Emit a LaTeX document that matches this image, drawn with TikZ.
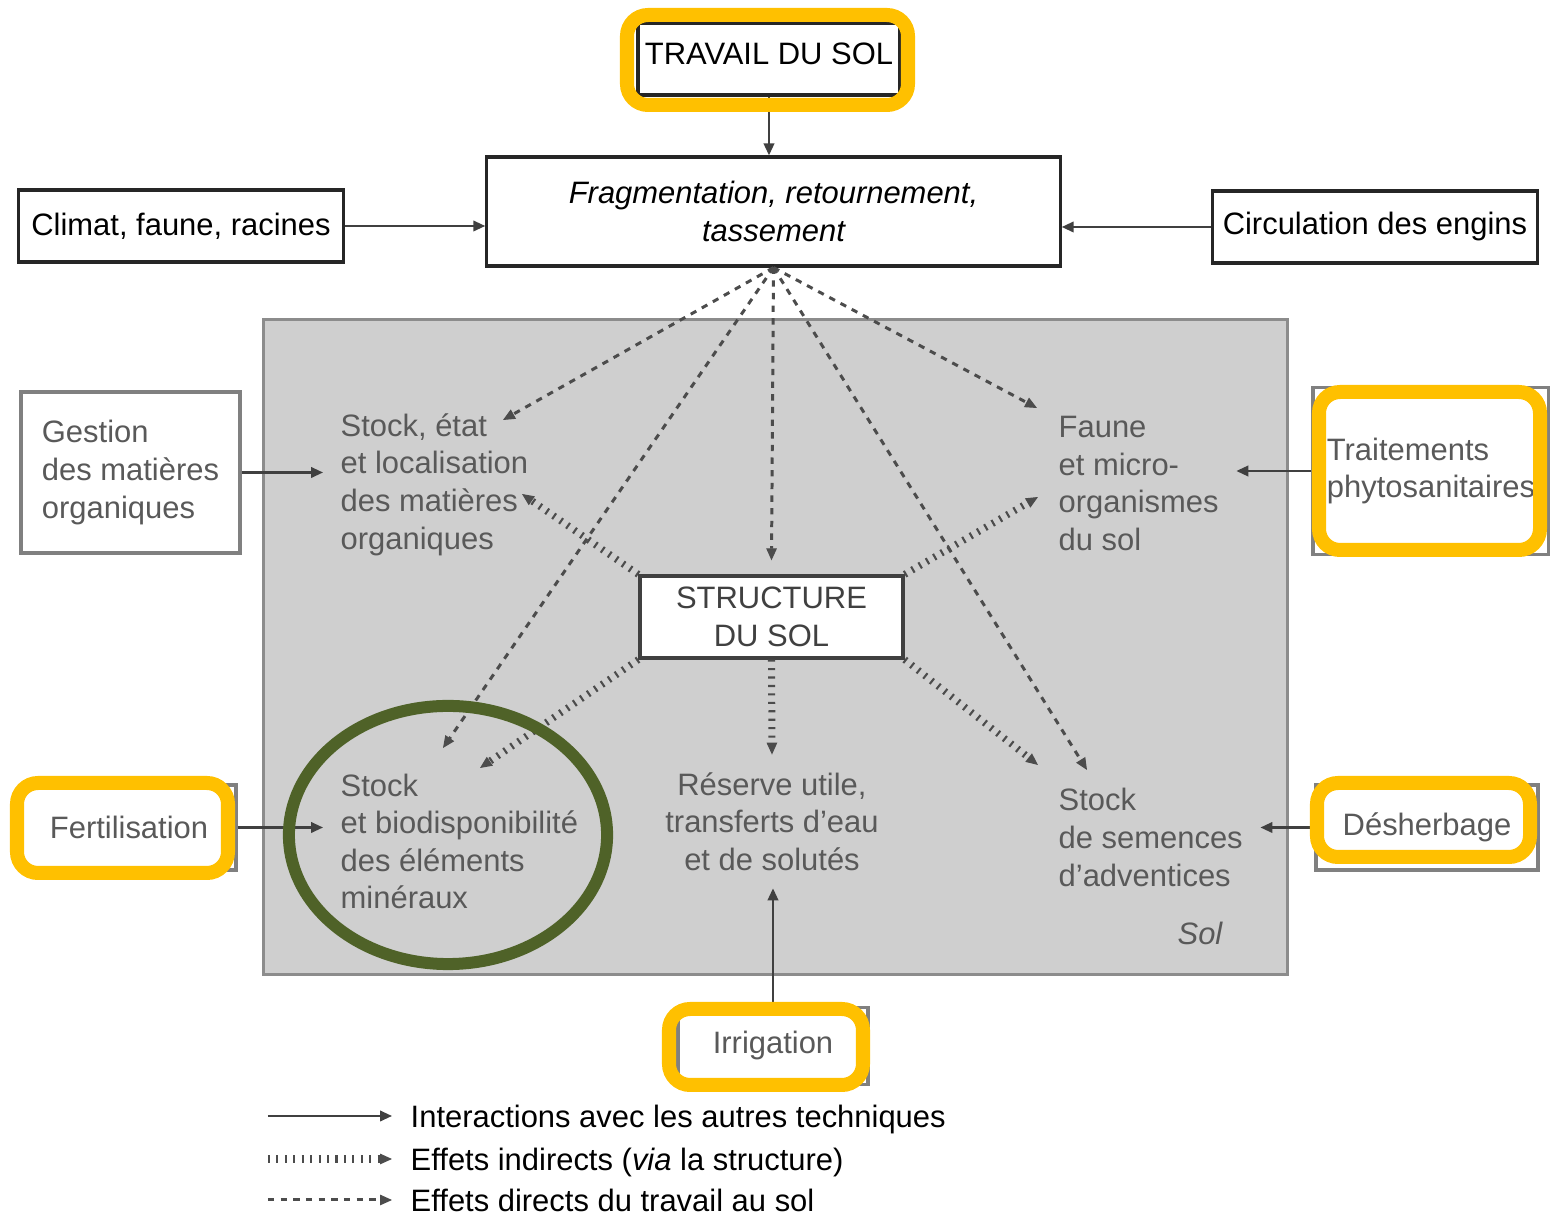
\documentclass[tikz,border=0pt]{standalone}
\usepackage{fontspec}
\setmainfont{Liberation Sans}
\usepackage{xcolor}
\usetikzlibrary{positioning}
\usetikzlibrary{arrows.meta}
\definecolor{jaune}{HTML}{FFC000}
\definecolor{vertcercle}{HTML}{4F6228}
\definecolor{fondsol}{gray}{0.81}
\newcommand\taille{\fontsize{8.8pt}{10.7pt}\selectfont}
\tikzset{
  boite/.style={draw=black!85, line width=0.9pt, fill=white, inner sep=0pt, align=center},
  boitegrise/.style={draw=black!50, line width=0.9pt, fill=white, inner sep=0pt, align=center, text=black!65},
  texte/.style={inner sep=0.17cm, align=left, text=black!65},
  legende/.style={anchor=west, inner xsep=0.18cm, inner ysep=0pt, text height=6.3pt, text depth=0pt},
  interaction/.style={black!75, line width=0.6pt, -{Triangle[length=3.4pt,width=3pt]}},
  indirect/.style={black!70, line width=2pt, dash pattern=on 0.6pt off 1.8pt, -{Triangle[length=3.4pt,width=3pt,line width=0.3pt]}},
  direct/.style={black!70, line width=0.85pt, dash pattern=on 1.8pt off 1.8pt, -{Triangle[length=3.4pt,width=3pt,line width=0.3pt]}},
  surligne/.style={draw=jaune, line width=0.14cm, rounded corners=0.21cm}
}

\begin{document}
\begin{tikzpicture}[x=0.01cm, y=-0.01cm, font=\taille]
	\useasboundingbox (0,0) rectangle (1550,1216);
	\node[fill=fondsol, draw=black!45, line width=0.9pt, inner sep=0pt, minimum width=10.23cm, minimum height=6.54cm] (zone) at (775.5,647) {};

	\node[boite, text height=6.3pt, text depth=3.4pt, minimum width=2.62cm, minimum height=0.72cm] (travail) at (769,59) {TRAVAIL DU SOL};
	\node[boite, font=\taille\itshape, minimum width=5.73cm, minimum height=1.09cm] (frag) at (773.5,211.5) {Fragmentation, retournement,\\tassement};
	\node[boite, minimum width=3.24cm, minimum height=0.72cm] (climat) at (181,226) {Climat, faune, racines};
	\node[boite, minimum width=3.24cm, minimum height=0.72cm] (circ) at (1375,227) {Circulation des engins};
	\node[boitegrise, align=left, minimum width=2.19cm, minimum height=1.61cm] (gestion) at (130.5,472.5) {Gestion\\des matières\\organiques};
	\node[boitegrise, align=left, minimum width=2.36cm, minimum height=1.67cm] (traitements) at (1431,471) {Traitements\\phytosanitaires};
	\node[boite, draw=black!75, text=black!75, minimum width=2.63cm, minimum height=0.82cm] (structure) at (771.5,617) {STRUCTURE\\DU SOL};
	\node[boitegrise, minimum width=2.14cm, minimum height=0.85cm] (fertil) at (129,827.5) {Fertilisation};
	\node[boitegrise, minimum width=2.22cm, minimum height=0.85cm] (desherb) at (1427,827.5) {Désherbage};
	\node[boitegrise, minimum width=1.9cm, minimum height=0.77cm] (irrig) at (773,1046) {Irrigation};

	\node[texte, anchor=west] (stockmo) at (323,484.5) {Stock, état\\et localisation\\des matières\\organiques};
	\node[texte, anchor=west] (faune) at (1041,483.5) {Faune\\et micro-\\organismes\\du sol};
	\node[texte, anchor=west] (stockmin) at (323,841.5) {Stock\\et biodisponibilité\\des éléments\\minéraux};
	\node[texte, align=center] (reserve) at (772,821.5) {Réserve utile,\\transferts d'eau\\et de solutés};
	\node[texte, anchor=west] (semences) at (1041,837.5) {Stock\\de semences\\d'adventices};
	\node[texte, font=\taille\itshape, inner sep=0pt] (sol) at (1200,933) {Sol};

	\draw[interaction] (travail.south) -- (travail.south |- frag.north);
	\draw[interaction] (climat.east) -- (climat.east -| frag.west);
	\draw[interaction] (circ.west) -- (circ.west -| frag.east);
	\draw[interaction] (gestion.east) -- (gestion.east -| stockmo.west);
	\draw[interaction] (traitements.west) -- (traitements.west -| faune.east);
	\draw[interaction] (fertil.east) -- (fertil.east -| stockmin.west);
	\draw[interaction] (desherb.west) -- (desherb.west -| semences.east);
	\draw[interaction] (irrig.north) -- (irrig.north |- reserve.south);

	% effets directs
	\coordinate (dmo) at (503,420);
	\coordinate (dmin) at (443,748);
	\coordinate (dfau) at (1037,408);
	\coordinate (dsem) at (1087,770);
	\draw[direct] (frag.south) -- (dmo);
	\draw[direct] (frag.south) -- (dmin);
	\draw[direct] (frag.south) -- ([yshift=4pt]structure.north);
	\draw[direct] (frag.south) -- (dfau);
	\draw[direct] (frag.south) -- (dsem);

	% effets indirects
	\coordinate (imo) at (522,494);
	\coordinate (ifau) at (1038,497);
	\coordinate (imin) at (480,768);
	\coordinate (isem) at (1038,765);
	\draw[indirect] (structure.north west) -- (imo);
	\draw[indirect] (structure.north east) -- (ifau);
	\draw[indirect] (structure.south west) -- (imin);
	\draw[indirect] (structure.south) -- (reserve.north);
	\draw[indirect] (structure.south east) -- (isem);

	\draw[surligne] (627,15) rectangle (908,105);
	\draw[surligne] (1319,392) rectangle (1540,550);
	\draw[surligne] (17,783) rectangle (228,873);
	\draw[surligne] (1317,783) rectangle (1530,857);
	\draw[surligne] (669,1009) rectangle (863,1085);
	\draw[vertcercle, line width=0.12cm] (448,835) ellipse [x radius=1.59cm, y radius=1.29cm];

	\node[legende] (leg1) at (392,1116) {Interactions avec les autres techniques};
	\node[legende] (leg2) at (392,1159) {Effets indirects (\textit{via} la structure)};
	\node[legende] (leg3) at (392,1200) {Effets directs du travail au sol};
	\draw[interaction] ([xshift=-1.24cm]leg1.west) -- (leg1.west);
	\draw[indirect] ([xshift=-1.24cm]leg2.west) -- (leg2.west);
	\draw[direct] ([xshift=-1.24cm]leg3.west) -- (leg3.west);
\end{tikzpicture}
\end{document}
